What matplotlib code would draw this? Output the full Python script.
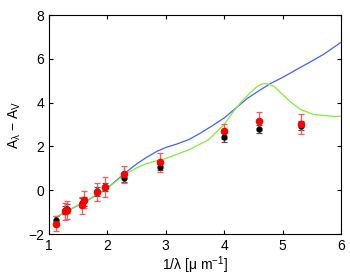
import matplotlib
matplotlib.use('Agg')
import matplotlib.pyplot as plt

plt.rcParams['font.family'] = ['Liberation Sans', 'DejaVu Sans']
plt.rcParams['mathtext.default'] = 'regular'

# model curves
blue_x = [1.11, 1.3, 1.5, 1.7, 2.0, 2.3, 2.5, 2.67, 2.85, 3.0, 3.2, 3.4, 3.6, 3.8, 4.0, 4.2, 4.4, 4.6, 4.8, 5.0, 5.2, 5.45, 5.7, 6.0]
blue_y = [-1.25, -0.97, -0.68, -0.4, 0.1, 0.78, 1.2, 1.5, 1.78, 1.95, 2.12, 2.32, 2.62, 2.95, 3.3, 3.75, 4.2, 4.55, 4.88, 5.15, 5.45, 5.82, 6.2, 6.75]
green_x = [1.11, 1.3, 1.5, 1.7, 2.0, 2.3, 2.5, 2.67, 3.0, 3.4, 3.73, 4.0, 4.16, 4.3, 4.44, 4.55, 4.65, 4.75, 4.85, 4.95, 5.13, 5.3, 5.53, 5.87, 6.0]
green_y = [-1.25, -0.97, -0.68, -0.4, 0.1, 0.72, 1.02, 1.22, 1.45, 1.85, 2.3, 3.0, 3.6, 4.05, 4.43, 4.7, 4.86, 4.86, 4.75, 4.5, 4.05, 3.7, 3.46, 3.37, 3.38]

# observed points
red_x = [1.115, 1.28, 1.3, 1.57, 1.6, 1.82, 1.96, 2.28, 2.9, 3.99, 4.6, 5.31]
red_y = [-1.53, -0.96, -0.89, -0.69, -0.43, -0.08, 0.15, 0.72, 1.27, 2.69, 3.17, 3.01]
red_err = [0.35, 0.4, 0.4, 0.4, 0.4, 0.4, 0.45, 0.4, 0.45, 0.35, 0.4, 0.45]
black_x = [1.115, 1.28, 1.3, 1.57, 1.6, 1.82, 1.96, 2.28, 2.9, 3.99, 4.6, 5.31]
black_y = [-1.38, -0.9, -0.84, -0.56, -0.5, -0.05, 0.15, 0.58, 1.07, 2.42, 2.8, 2.95]
black_err = [0.2, 0.2, 0.2, 0.2, 0.2, 0.2, 0.2, 0.2, 0.15, 0.2, 0.2, 0.2]

fig = plt.figure(figsize=(3.5, 2.78), dpi=100)
ax = fig.add_axes([0.14, 0.158, 0.834, 0.788])

ax.plot(blue_x, blue_y, color='#4060ff', lw=0.9)
ax.plot(green_x, green_y, color='#80ee30', lw=0.9)
ax.errorbar(black_x, black_y, yerr=black_err, fmt='o', color='black', ms=3.5,
            ecolor='#505050', elinewidth=0.9, capsize=2.5, capthick=0.9)
ax.errorbar(red_x, red_y, yerr=red_err, fmt='o', color='red', ms=4.5,
            ecolor='#ff5858', elinewidth=0.9, capsize=2.5, capthick=0.9)

ax.set_xlim(1, 6)
ax.set_ylim(-2, 8)
ax.set_xticks([1, 2, 3, 4, 5, 6])
ax.set_yticks([-2, 0, 2, 4, 6, 8])
ax.tick_params(direction='in', top=True, right=True, labelsize=10, length=3)
ax.set_xlabel(r'1/$\lambda$ [$\mu$ m$^{-1}$]', fontsize=10, labelpad=1)
ax.set_ylabel(r'A$_\lambda$ $-$ A$_V$', fontsize=10, labelpad=4)

fig.savefig('out.png', dpi=100)
